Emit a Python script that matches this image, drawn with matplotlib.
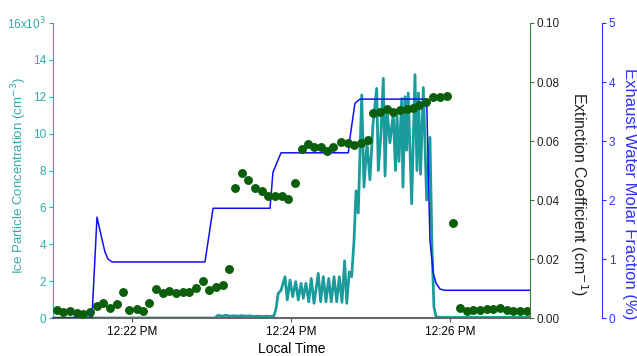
import matplotlib
matplotlib.use("Agg")
from matplotlib import pyplot as plt
from matplotlib.ticker import FixedLocator, FuncFormatter

plt.rcParams['font.family'] = ['Liberation Sans', 'DejaVu Sans']

# time in seconds after 12:21:00 PM
ice_t = [0, 122.3, 124.5, 127.5, 130.6, 133.6, 136.6, 139.6, 142.6, 145.7,
         148.7, 151.7, 154.7, 157.7, 160.8, 163.8, 166.8, 168.3, 170.0, 172.1,
         175.1, 176.8, 178.9, 180.9, 183.2, 185.1, 187.2, 188.9, 190.9, 193.0,
         194.9, 197.0, 200.2, 202.0, 204.0, 206.0, 208.1, 210.0, 212.1, 214.1,
         216.1, 218.1, 220.1, 221.7, 223.6, 225.4, 227.2, 228.7, 230.4, 233.0,
         234.7, 237.0, 239.2, 241.5, 244.3, 245.5, 247.5, 249.3, 250.6, 252.1,
         254.3, 256.8, 258.5, 259.6, 261.1, 263.2, 264.1, 265.7, 266.9, 268.1,
         270.7, 273.2, 274.7, 275.8, 277.4, 279.5, 282.0, 284.5, 286.0, 287.5,
         289.1, 292.1, 360.0]
# ice particle concentration, thousands of cm^-3
ice_conc = [0.0, 0.0, 0.15, 0.1, 0.15, 0.1, 0.12, 0.1, 0.13, 0.1,
            0.12, 0.08, 0.1, 0.08, 0.1, 0.08, 0.12, 0.5, 1.34, 1.5,
            2.24, 0.98, 2.06, 1.16, 1.97, 0.98, 1.88, 1.07, 1.88, 0.88,
            2.15, 0.80, 2.42, 0.88, 2.24, 0.88, 2.15, 0.88, 2.24, 0.88,
            2.24, 0.85, 3.1, 0.80, 2.5, 2.24, 4.2, 6.9, 5.7, 12.1,
            7.1, 9.5, 7.5, 10.5, 12.45, 8.0, 10.0, 13.0, 7.7, 11.3,
            9.5, 11.1, 8.0, 11.1, 8.5, 11.9, 7.1, 12.0, 9.1, 12.2,
            6.2, 13.2, 8.0, 12.2, 7.8, 12.5, 6.4, 9.8, 4.0, 0.6,
            0.07, 0.03, 0.03]

ext_t = [2.8, 7.8, 12.8, 17.9, 22.9, 27.9, 33.0, 38.0, 43.0, 48.1,
         53.1, 57.6, 63.2, 68.2, 72.7, 77.7, 82.8, 87.8, 92.8, 97.9,
         102.9, 107.9, 113.0, 118.0, 123.0, 128.1, 133.1, 137.4, 142.4, 147.4,
         152.5, 157.5, 162.0, 167.5, 172.6, 177.6, 182.6, 187.7, 192.2, 197.2,
         202.3, 206.6, 211.5, 217.4, 222.4, 227.4, 232.5, 237.5, 241.7, 246.8,
         251.8, 256.8, 261.9, 266.9, 271.9, 276.4, 281.5, 287.0, 292.1, 297.1,
         302.1, 307.2, 312.2, 317.2, 322.3, 327.3, 332.3, 337.4, 342.4, 347.4,
         352.5, 357.5]
ext_coef = [0.0027, 0.0021, 0.0025, 0.0016, 0.0014, 0.0021, 0.0041, 0.0052, 0.0035, 0.0047,
            0.0088, 0.0027, 0.0031, 0.0024, 0.0052, 0.0097, 0.0084, 0.0092, 0.0084, 0.0089,
            0.0088, 0.0102, 0.0125, 0.0095, 0.0106, 0.0111, 0.0165, 0.0440, 0.0491, 0.0467,
            0.0440, 0.0431, 0.0415, 0.0415, 0.0413, 0.0403, 0.0458, 0.0572, 0.0589, 0.0581,
            0.0579, 0.0567, 0.0579, 0.0596, 0.0592, 0.0586, 0.0592, 0.0603, 0.0694, 0.0697,
            0.0707, 0.0699, 0.0705, 0.0707, 0.0713, 0.0721, 0.0733, 0.0748, 0.0750, 0.0753,
            0.0321, 0.0035, 0.0025, 0.0027, 0.0027, 0.0029, 0.0032, 0.0035, 0.0027, 0.0024,
            0.0025, 0.0024]

water_t = [0, 29.4, 33.2, 36.2, 39.2, 41.5, 44.5, 114.7, 120.8, 163.8,
           166.0, 172.1, 222.9, 224.1, 227.9, 231.7, 282.0, 284.5, 287.0, 289.1,
           292.1, 295.8, 360.0]
water_frac = [0.0, 0.0, 1.71, 1.41, 1.12, 1.0, 0.95, 0.95, 1.86, 1.86,
              2.47, 2.80, 2.80, 3.05, 3.64, 3.71, 3.71, 1.32, 0.76, 0.59,
              0.49, 0.47, 0.47]

time_ticks = [60, 180, 300]
time_labels = ["12:22 PM", "12:24 PM", "12:26 PM"]

teal = "#1a9c9c"
teal_ax = "#33aaaa"
green = "#0b5e0b"
green_ax = "#3a7a3a"
blue = "#1010f0"
blue_ax = "#3030ff"
tick_fs = 8.5

fig = plt.figure(figsize=(6.37, 3.56), dpi=100)
ax = fig.add_axes([0.0832, 0.1067, 0.7488, 0.8287])
ax3 = ax.twinx()
ax2 = ax.twinx()

ax.plot(ice_t, ice_conc, color=teal, lw=2.0, zorder=2)
ax3.plot(water_t, water_frac, color=blue, lw=1.1)
ax2.plot(ext_t, ext_coef, 'o', color=green, ms=5.4, mec=green)

ax.set_xlim(0, 360)
ax.set_ylim(0, 16)
ax2.set_ylim(0, 0.10)
ax3.set_ylim(0, 5)

ax.xaxis.set_major_locator(FixedLocator(time_ticks))
ax.set_xticklabels(time_labels)
ax.set_xlabel("Local Time", fontsize=10, labelpad=2.5)
ax.tick_params(axis='x', colors='#555555', labelcolor='black', labelsize=tick_fs,
               length=3, pad=3, direction='out')

ax.yaxis.set_major_locator(FixedLocator(range(0, 17, 2)))
ax.yaxis.set_major_formatter(FuncFormatter(
    lambda v, p: "16x10$^3$" if v == 16 else "%d" % v))
ax.tick_params(axis='y', colors=teal_ax, labelsize=tick_fs, length=3, pad=2)
ax.set_ylabel("Ice Particle Concentration (cm$^{-3}$)", color=teal_ax, fontsize=9.5)
ax.yaxis.set_label_coords(-0.050, 0.485)

ax2.yaxis.set_major_locator(FixedLocator([0, 0.02, 0.04, 0.06, 0.08, 0.10]))
ax2.yaxis.set_major_formatter(FuncFormatter(lambda v, p: "%.2f" % v))
ax2.tick_params(axis='y', colors=green_ax, labelcolor='#222222', labelsize=tick_fs,
                length=3, pad=1.5)
ax2.set_ylabel("Extinction Coefficient (cm$^{-1}$)", color='#222222',
               fontsize=11.5, rotation=270, va='bottom')
ax2.yaxis.set_label_coords(1.080, 0.42)

ax3.spines['right'].set_position(('axes', 1 + 72 / 477))
ax3.yaxis.set_major_locator(FixedLocator(range(0, 6)))
ax3.tick_params(axis='y', colors=blue_ax, labelsize=tick_fs, length=3, pad=2)
ax3.set_ylabel("Exhaust Water Molar Fraction (%)", color=blue_ax,
               fontsize=12, rotation=270, va='bottom')
ax3.yaxis.set_label_coords(1.193, 0.42)

for a in (ax, ax2, ax3):
    a.spines['top'].set_visible(False)
ax.spines['left'].set_color(teal_ax)
ax.spines['bottom'].set_color('#666666')
ax.spines['bottom'].set_linewidth(1.5)
ax.spines['right'].set_visible(False)
ax3.spines['left'].set_visible(False)
ax3.spines['bottom'].set_visible(False)
ax3.spines['right'].set_color(blue_ax)
ax2.spines['left'].set_visible(False)
ax2.spines['bottom'].set_visible(False)
ax2.spines['right'].set_color(green_ax)

fig.savefig("out.png", dpi=100)
